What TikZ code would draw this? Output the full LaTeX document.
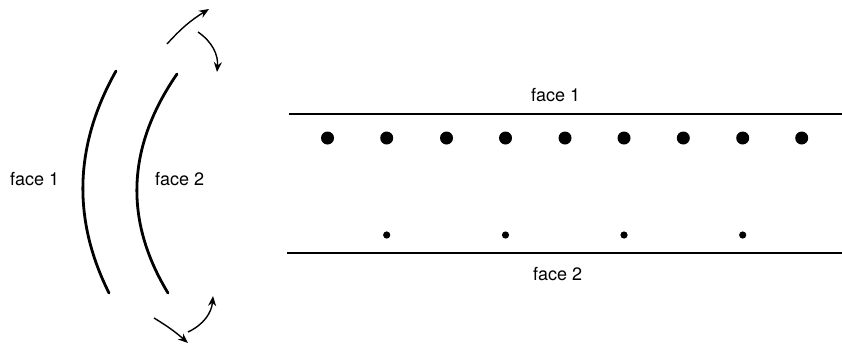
\documentclass[tikz,border=0pt]{standalone}
\usepackage{fontspec}
\setmainfont{TeX Gyre Heros}
\usetikzlibrary{arrows.meta}
\begin{document}
\begin{tikzpicture}[x=1pt,y=-1pt,
  face/.style={line width=2.8pt,line cap=round},
  flip/.style={line width=1.4pt,-{Stealth[length=10pt,width=8pt]}},
  lbl/.style={anchor=base west,inner sep=0pt,font=\fontsize{18}{20}\selectfont},
  bigdot/.style={fill=black},
]
\useasboundingbox (0,0) rectangle (842,354);
% left: curved faces
\draw[face] (116,71) .. controls (74.3,145) and (72,219) .. (109,293);
\draw[face] (177,74) .. controls (126.7,147) and (123.7,220) .. (168,293);
\node[lbl] (lf1) at (10,185) {face 1};
\node[lbl] (lf2) at (155,185) {face 2};
% arrows
\coordinate (a1s) at (167,44); \coordinate (a1e) at (209,9);
\coordinate (a2s) at (198,32); \coordinate (a2e) at (217,72);
\coordinate (a3s) at (154,318); \coordinate (a3e) at (188,343);
\coordinate (a4s) at (188,332); \coordinate (a4e) at (213,296);
\draw[flip] (a1s) to[bend left=8] (a1e);
\draw[flip] (a2s) to[bend left=30] (a2e);
\draw[flip] (a3s) to[bend left=5] (a3e);
\draw[flip] (a4s) to[bend right=30] (a4e);
% right: flat film
\draw[face,line cap=butt] (289,114) -- (842,114);
\draw[face,line cap=butt] (287,253) -- (842,253);
\node[lbl] (rf1) at (531,101) {face 1};
\node[lbl] (rf2) at (533,280) {face 2};
\foreach \x in {327.5,386.7,446.5,505.5,565,624,683.3,742.7,801.7}
  \fill[bigdot] (\x,138) circle (6.5);
\foreach \x in {386.7,505.5,624,742.7}
  \fill[bigdot] (\x,235) circle (3.6);
\end{tikzpicture}
\end{document}
